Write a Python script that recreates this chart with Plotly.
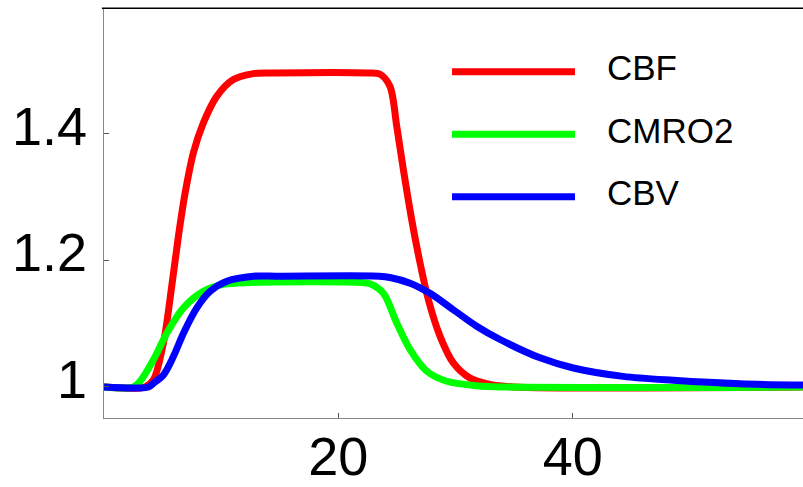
import plotly.graph_objects as go

# ---- data ----
cbf_x = [0, 3.5, 4.22, 5.07, 5.78, 6.35, 6.92, 7.63, 8.48, 9.62, 11.04, 12.75, 14.5, 22.5, 23.56, 24.4, 24.98, 25.55, 26.26, 26.97, 27.68, 28.68, 29.81, 31.24, 32.94, 35, 60]
cbf_y = [1, 1, 1.0115, 1.0695, 1.159, 1.238, 1.306, 1.370, 1.417, 1.459, 1.4855, 1.495, 1.496, 1.496, 1.494, 1.475, 1.412, 1.343, 1.264, 1.196, 1.138, 1.080, 1.038, 1.014, 1.004, 1, 1]

cmro2_x = [0, 2.5, 3.08, 4.22, 5.36, 6.78, 8.48, 10.19, 12.5, 22.0, 22.7, 23.84, 24.98, 26.12, 27.54, 29.25, 31.8, 34, 60]
cmro2_y = [1, 1, 1.009, 1.043, 1.085, 1.125, 1.151, 1.162, 1.165, 1.165, 1.163, 1.148, 1.101, 1.059, 1.025, 1.009, 1.002, 1, 1]

cbv_x = [0, 3.8, 4.22, 5.07, 5.92, 6.78, 7.92, 9.05, 10.48, 12.75, 15, 23.5, 24.4, 26.12, 27.82, 29.81, 31.8, 33.8, 37.21, 40.05, 44.3, 48.58, 54.27, 60]
cbv_y = [1, 1, 1.006, 1.019, 1.048, 1.085, 1.125, 1.151, 1.167, 1.175, 1.175, 1.175, 1.173, 1.164, 1.148, 1.122, 1.096, 1.075, 1.046, 1.030, 1.0167, 1.0105, 1.005, 1.003]

series_names = ["CBF", "CMRO2", "CBV"]
series_colors = ["#ff0000", "#00ff00", "#0000ff"]
x_tickvals = [20, 40]
y_tickvals = [1, 1.2, 1.4]
y_ticktext = ["1", "1.2", "1.4"]

FONT = "Liberation Sans, Arial, sans-serif"

fig = go.Figure()
for name, xs, ys, col in zip(series_names, [cbf_x, cmro2_x, cbv_x], [cbf_y, cmro2_y, cbv_y], series_colors):
    fig.add_trace(go.Scatter(x=xs, y=ys, mode="lines", name=name,
                             line=dict(color=col, width=7, shape="spline", smoothing=0.9),
                             showlegend=False, hoverinfo="skip"))

# manual legend (long sample lines as in the reference)
leg_y = [0.8467, 0.6936, 0.5411]
for name, col, ly in zip(series_names, series_colors, leg_y):
    fig.add_shape(type="line", xref="paper", yref="paper", x0=0.4979, x1=0.6738, y0=ly, y1=ly,
                  line=dict(color=col, width=7))
    fig.add_annotation(xref="paper", yref="paper", x=0.7168, y=ly + 0.01, text=name, showarrow=False,
                       xanchor="left", yanchor="middle", font=dict(family=FONT, size=35, color="black"))

# top border
fig.add_shape(type="line", xref="paper", yref="paper", x0=-0.003, x1=1, y0=1.002, y1=1.002,
              line=dict(color="black", width=1.5))

fig.update_layout(
    width=803, height=487,
    margin=dict(l=104, r=0, t=9, b=69),
    paper_bgcolor="white", plot_bgcolor="white",
    font=dict(family=FONT, size=54, color="black"),
    xaxis=dict(range=[0, 59.65], tickvals=x_tickvals, ticks="inside", ticklen=5, tickcolor="#555",
               showline=True, linecolor="#888", linewidth=1.2, showgrid=False, zeroline=False,
               ticklabelstandoff=-9, automargin=False),
    yaxis=dict(range=[0.951, 1.597], tickvals=y_tickvals, ticktext=y_ticktext, ticks="inside", ticklen=5,
               tickcolor="#555", showline=True, linecolor="#888", linewidth=1.2, showgrid=False,
               zeroline=False, ticklabelstandoff=5, ticklabelshift=-8, automargin=False),
)

fig.write_html("out.html")
